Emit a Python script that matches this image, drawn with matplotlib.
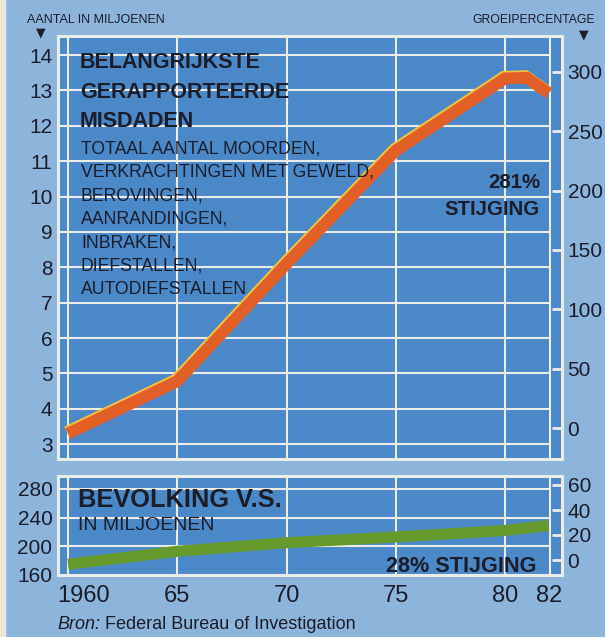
import matplotlib
matplotlib.use("Agg")
import matplotlib.pyplot as plt
import matplotlib.transforms as mtransforms
from matplotlib.patches import Rectangle

# gegevens
years = [1960, 1965, 1970, 1975, 1980, 1981, 1982]
crimes = [3.3, 4.78, 8.1, 11.3, 13.34, 13.36, 12.92]      # miljoenen misdaden
pop_years = [1960, 1965, 1970, 1975, 1980, 1982]
population = [175, 193, 205, 213, 222, 229]               # miljoenen inwoners

x_ticks = [1960, 1965, 1970, 1975, 1980, 1982]
x_labels = ['1960', '65', '70', '75', '80', '82']
crime_ticks = list(range(3, 15))
growth_ticks = [0, 50, 100, 150, 200, 250, 300]
pop_ticks = [160, 200, 240, 280]
pop_growth_ticks = [0, 20, 40, 60]

W, H = 605, 637
BG = '#8db4da'
PLOT = '#4b88c8'
GRID = '#eaece8'
INK = '#1b1d2b'
ORANGE = '#e35f28'
YELLOW = '#f2c23c'
GREEN = '#679a2c'
REG = ['Liberation Sans', 'DejaVu Sans']

XMIN, XMAX, XEND = 1959.54, 1982.61, 1982.0

fig = plt.figure(figsize=(W / 100, H / 100), dpi=100)
fig.patch.set_facecolor(BG)
fig.patches.append(Rectangle((0, 0), 5 / W, 1, transform=fig.transFigure,
                             color='#efe7d6', zorder=0))


def box(l, t, r, b):
    return [l / W, 1 - b / H, (r - l) / W, (b - t) / H]


def ftext(x, y, s, **kw):
    return fig.text(x / W, 1 - y / H, s, color=INK, va='baseline', family=REG, **kw)


def setup(ax, yticks, ylim):
    ax.set_facecolor(PLOT)
    ax.set_xlim(XMIN, XMAX)
    ax.set_ylim(*ylim)
    for sp in ax.spines.values():
        sp.set_color(GRID)
        sp.set_linewidth(2.2)
    ax.hlines(yticks, XMIN, XEND, color=GRID, lw=1.5, zorder=1)
    ax.vlines(x_ticks[:-1], *ylim, color=GRID, lw=1.5, zorder=1)
    ax.axvline(XEND + 0.06, color=GRID, lw=1.5, zorder=1)
    ax.set_yticks(yticks)
    ax.tick_params(axis='y', length=0, pad=4, labelsize=15, labelcolor=INK)
    for lab in ax.get_yticklabels():
        lab.set_family(REG)


def right_axis(ax, ticks, ylim):
    axr = ax.twinx()
    axr.set_ylim(*ylim)
    axr.set_yticks(ticks)
    axr.tick_params(axis='y', direction='in', length=7.3, width=2, color=GRID,
                    pad=4, labelsize=15, labelcolor=INK)
    for lab in axr.get_yticklabels():
        lab.set_family(REG)
    for sp in axr.spines.values():
        sp.set_visible(False)
    return axr


# bovenste paneel: misdaden
ax1 = fig.add_axes(box(58, 36, 562, 459))
setup(ax1, crime_ticks, (2.58, 14.54))
ax1.set_xticks([])
right_axis(ax1, growth_ticks, (-26.1, 330.3))

hl = mtransforms.offset_copy(ax1.transData, fig=fig, x=-1.2, y=1.6, units='dots')
ax1.plot(years, crimes, color=YELLOW, lw=8.5, transform=hl,
         solid_capstyle='butt', solid_joinstyle='miter', zorder=3)
ax1.plot(years, crimes, color=ORANGE, lw=8.5,
         solid_capstyle='butt', solid_joinstyle='miter', zorder=4)

# onderste paneel: bevolking
ax2 = fig.add_axes(box(58, 476, 562, 575))
setup(ax2, pop_ticks, (160, 298))
right_axis(ax2, pop_growth_ticks, (-12, 67.2))
ax2.plot(pop_years, population, color=GREEN, lw=8,
         solid_capstyle='butt', solid_joinstyle='miter', zorder=4)
ax2.set_xticks(x_ticks)
ax2.set_xticklabels(x_labels, fontsize=17, color=INK, family=REG)
ax2.tick_params(axis='x', length=0, pad=7)
first = ax2.get_xticklabels()[0]
first.set_transform(first.get_transform() +
                    mtransforms.ScaledTranslation(0.16, 0, fig.dpi_scale_trans))

# teksten
ftext(27, 23, 'AANTAL IN MILJOENEN', fontsize=9)
ftext(595, 23, 'GROEIPERCENTAGE', fontsize=8.8, ha='right')
fig.text(41 / W, 1 - 33 / H, '\u25BC', fontsize=9, color=INK, ha='center', va='center',
         family='DejaVu Sans')
fig.text(584 / W, 1 - 35 / H, '\u25BC', fontsize=9, color=INK, ha='center', va='center',
         family='DejaVu Sans')

for i, line in enumerate(['BELANGRIJKSTE', 'GERAPPORTEERDE', 'MISDADEN']):
    ftext(80, 68 + i * 29.5, line, fontsize=15.5, fontweight='bold')

sub = ['TOTAAL AANTAL MOORDEN,', 'VERKRACHTINGEN MET GEWELD,', 'BEROVINGEN,',
       'AANRANDINGEN,', 'INBRAKEN,', 'DIEFSTALLEN,', 'AUTODIEFSTALLEN']
for i, line in enumerate(sub):
    ftext(81, 153 + i * 23.5, line, fontsize=12.7)

ftext(540, 188, '281%', fontsize=14.7, fontweight='bold', ha='right')
ftext(540, 215, 'STIJGING', fontsize=14.7, fontweight='bold', ha='right')

ftext(78, 507, 'BEVOLKING V.S.', fontsize=18.3, fontweight='bold')
ftext(78, 530, 'IN MILJOENEN', fontsize=14)
ftext(386, 572, '28% STIJGING', fontsize=15.6, fontweight='bold')

ftext(57, 629, 'Bron:', fontsize=13, style='italic')
ftext(105, 629, 'Federal Bureau of Investigation', fontsize=13)

fig.savefig('out.png', dpi=100, facecolor=BG)
